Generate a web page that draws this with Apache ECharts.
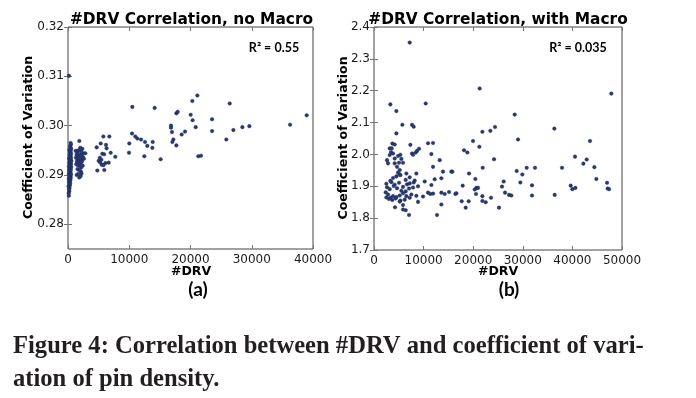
<!DOCTYPE html>
<html><head><meta charset="utf-8">
<script src="https://cdn.jsdelivr.net/npm/echarts@6/dist/echarts.min.js"></script>
<style>html,body{margin:0;padding:0;background:#fff}#c{width:696px;height:398px}</style>
</head><body><div id="c"></div>
<script>
// ---------- data ----------
const titleA = '#DRV Correlation, no Macro';
const titleB = '#DRV Correlation, with Macro';
const xNameText = '#DRV';
const yNameText = 'Coefficient of Variation';
const r2A = 'R\u00b2 = 0.55';
const r2B = 'R\u00b2 = 0.035';
const panelA = '(a)';
const panelB = '(b)';
const captionLines = ['Figure 4: Correlation between #DRV and coefficient of vari-', 'ation of pin density.'];

const xTicksA = [0, 10000, 20000, 30000, 40000];
const yTicksA = [0.28, 0.29, 0.30, 0.31, 0.32];
const xTicksB = [0, 10000, 20000, 30000, 40000, 50000];
const yTicksB = [1.7, 1.8, 1.9, 2.0, 2.1, 2.2, 2.3, 2.4];

// panel (a): #DRV vs coefficient of variation, no macro
const drvA = [150,120,200,180,250,100,300,220,350,160,280,400,130,330,450,210,370,260,500,140,310,420,230,380,190,460,290,340,520,170,400,250,480,320,210,440,360,550,270,410,190,490,330,430,260,500,380,300,450,220,520,400,350,480,420,160,
  1850,1250,2340,2500,2830,1500,1700,2000,2150,1400,1650,1900,2200,2450,1300,1550,1800,2050,2300,2600,1450,1750,2000,2250,1350,1600,1950,2150,2400,1550,1800,2100,1420,1850,2070,1650,2200,
  4680,5340,5770,6750,6200,6300,6970,7720,5600,5900,5010,5230,5500,5770,6100,6640,4790,5930,5200,5450,
  9960,10010,10450,10500,10990,11320,11920,12460,12570,12950,13770,13830,14150,15130,16820,16820,16980,17200,17690,17040,17690,17910,18560,19110,20030,20300,20350,20850,21120,21280,21720,23520,23520,25850,26400,27000,28470,29610,36260,38970];
const cvA = [0.2858,0.2863,0.2867,0.2871,0.2874,0.2877,0.2879,0.2882,0.2884,0.2886,0.2888,0.2890,0.2892,0.2893,0.2895,0.2896,0.2898,0.2899,0.2901,0.2902,0.2904,0.2905,0.2907,0.2908,0.2910,0.2911,0.2913,0.2914,0.2916,0.2917,0.2919,0.2920,0.2922,0.2923,0.2925,0.2926,0.2928,0.2929,0.2931,0.2932,0.2934,0.2935,0.2937,0.2939,0.2941,0.2943,0.2945,0.2947,0.2949,0.2951,0.2953,0.2956,0.2959,0.2962,0.2965,0.3101,
  0.2969,0.2949,0.2953,0.2944,0.2944,0.2946,0.2950,0.2955,0.2948,0.2941,0.2939,0.2942,0.2940,0.2936,0.2935,0.2933,0.2931,0.2934,0.2930,0.2933,0.2928,0.2926,0.2924,0.2927,0.2922,0.2920,0.2918,0.2915,0.2919,0.2912,0.2910,0.2907,0.2900,0.2895,0.2898,0.2902,0.2903,
  0.2956,0.2964,0.2978,0.2978,0.2961,0.2954,0.2945,0.2937,0.2943,0.2942,0.2929,0.2926,0.2921,0.2920,0.2924,0.2925,0.2909,0.2910,0.2935,0.2931,
  0.2945,0.2964,0.2984,0.3038,0.2978,0.2974,0.2972,0.2938,0.2967,0.2959,0.2955,0.2967,0.3036,0.2932,0.3000,0.2996,0.2987,0.2972,0.2960,0.2967,0.3025,0.3028,0.2982,0.2988,0.3022,0.3050,0.3011,0.2997,0.3061,0.2938,0.2939,0.3013,0.2989,0.2972,0.3045,0.2991,0.2997,0.2999,0.3002,0.3021];

// panel (b): #DRV vs coefficient of variation, with macro
const drvB = [7197,3299,4509,5719,7667,8003,10423,4509,3703,4173,3165,3568,7331,10893,11901,3434,3837,5315,4845,3165,2627,4173,5517,9079,8675,8407,7667,7869,11565,13245,2829,4173,5047,5853,4643,5181,4845,5181,6525,8541,11901,13917,15597,
  3837,4509,5315,6391,7197,8205,10221,12237,13581,3299,2493,3501,4173,5047,5853,6659,7197,8003,8877,11565,2627,3165,3971,4643,5517,6391,7063,7869,10893,11901,
  2359,2829,3299,3837,4509,5181,5853,6525,7533,8541,9885,11363,13581,14253,15127,16605,2493,3031,3703,4375,5315,6189,7197,8877,5853,6391,4240,5853,5181,7063,12707,13581,
  21309,47853,28365,24400,23459,21847,36362,19965,21242,29037,43552,18151,18823,24199,40528,42880,42208,44425,21914,15799,19159,37907,30784,32464,28768,29910,44829,20435,26147,29507,31859,46979,17882,39654,40595,39990,47114,47383,25811,20637,20301,20973,16403,20569,21847,26416,27222,27693,31859,36429,17680,19091,21847,22518,23594,18487,25206];
const cvB = [2.351,2.157,2.136,2.093,2.093,2.087,2.160,2.066,2.034,2.031,2.019,2.019,2.030,2.035,2.036,2.007,2.003,1.999,1.995,1.998,1.982,1.987,1.986,2.018,2.011,2.006,2.003,1.999,2.001,1.982,1.972,1.972,1.974,1.974,1.961,1.951,1.943,1.937,1.940,1.940,1.961,1.946,1.946,
  1.926,1.931,1.935,1.920,1.928,1.918,1.915,1.922,1.925,1.917,1.908,1.913,1.905,1.911,1.898,1.906,1.909,1.912,1.900,1.904,1.897,1.891,1.901,1.894,1.886,1.884,1.893,1.896,1.880,1.877,
  1.881,1.874,1.864,1.869,1.866,1.871,1.878,1.869,1.874,1.870,1.868,1.876,1.880,1.876,1.882,1.878,1.865,1.860,1.857,1.862,1.855,1.858,1.864,1.851,1.841,1.825,1.834,1.827,1.852,1.810,1.810,1.843,
  2.207,2.191,2.125,2.086,2.074,2.071,2.081,2.042,2.024,2.047,2.042,2.013,2.006,1.985,1.993,1.984,1.971,1.960,1.958,1.946,1.940,1.958,1.958,1.958,1.948,1.937,1.923,1.923,1.915,1.912,1.903,1.911,1.902,1.902,1.895,1.891,1.893,1.891,1.899,1.895,1.890,1.895,1.876,1.876,1.869,1.880,1.873,1.871,1.871,1.873,1.853,1.853,1.854,1.850,1.864,1.833,1.833];

// ---------- chart ----------
const zip = (xs, ys) => xs.map((x, i) => [x, ys[i]]);
const chart = echarts.init(document.getElementById('c'), null, {renderer: 'canvas'});
const frame = '#444';
const tickStyle = {inside: true, length: 4, lineStyle: {color: '#777', width: 1}};
const lbl = {fontFamily: 'DejaVu Sans', fontSize: 12, color: '#1a1a1a'};

function xAx(grid, ticks, pos, showLabel) {
  return {type: 'value', gridIndex: grid, position: pos, min: ticks[0], max: ticks[ticks.length - 1],
    axisLine: {show: false}, splitLine: {show: false},
    axisTick: Object.assign({customValues: ticks}, tickStyle),
    axisLabel: Object.assign({show: showLabel, customValues: ticks, margin: 5, showMinLabel: true, showMaxLabel: true,
      formatter: v => String(Math.round(v))}, lbl)};
}
function yAx(grid, ticks, min, max, pos, showLabel, dec) {
  return {type: 'value', gridIndex: grid, position: pos, min: min, max: max,
    axisLine: {show: false}, splitLine: {show: false},
    axisTick: Object.assign({customValues: ticks}, tickStyle),
    axisLabel: Object.assign({show: showLabel, customValues: ticks, margin: 4, showMinLabel: true, showMaxLabel: true,
      formatter: v => v.toFixed(dec)}, lbl)};
}

const txt = (x, y, text, font, extra) => Object.assign({type: 'text', x: x, y: y, silent: true,
  style: {text: text, font: font, fill: '#000', align: 'center', verticalAlign: 'middle'}}, extra || {});

const dot = {color: '#2a3a70', borderColor: '#1c2858', borderWidth: 0.4, opacity: 1};

chart.setOption({
  animation: false,
  backgroundColor: '#fff',
  grid: [
    {left: 68, top: 27, width: 245, height: 222, show: true, borderColor: frame, borderWidth: 1, backgroundColor: 'transparent'},
    {left: 374, top: 27, width: 248, height: 223, show: true, borderColor: frame, borderWidth: 1, backgroundColor: 'transparent'}
  ],
  xAxis: [
    xAx(0, xTicksA, 'bottom', true), xAx(0, xTicksA, 'top', false),
    xAx(1, xTicksB, 'bottom', true), xAx(1, xTicksB, 'top', false)
  ],
  yAxis: [
    yAx(0, yTicksA, 0.275, 0.32, 'left', true, 2), yAx(0, yTicksA, 0.275, 0.32, 'right', false, 2),
    yAx(1, yTicksB, 1.7, 2.4, 'left', true, 1), yAx(1, yTicksB, 1.7, 2.4, 'right', false, 1)
  ],
  series: [
    {type: 'scatter', xAxisIndex: 0, yAxisIndex: 0, data: zip(drvA, cvA), symbolSize: 3.6, itemStyle: dot},
    {type: 'scatter', xAxisIndex: 2, yAxisIndex: 2, data: zip(drvB, cvB), symbolSize: 3.6, itemStyle: dot}
  ],
  graphic: [
    txt(191.5, 20, titleA, 'bold 15.4px "DejaVu Sans"'),
    txt(498, 20, titleB, 'bold 15.4px "DejaVu Sans"'),
    txt(28.6, 137.5, yNameText, 'bold 12.6px "DejaVu Sans"', {rotation: Math.PI / 2}),
    txt(343.6, 138, yNameText, 'bold 12.6px "DejaVu Sans"', {rotation: Math.PI / 2}),
    txt(191, 272, xNameText, 'bold 12.5px "DejaVu Sans"'),
    txt(498, 272, xNameText, 'bold 12.5px "DejaVu Sans"'),
    txt(274, 47.5, r2A, 'bold 12.5px Lato'),
    txt(578, 47.5, r2B, 'bold 12.5px Lato'),
    txt(198, 290, panelA, 'bold 19px Lato'),
    txt(509, 290, panelB, 'bold 19px Lato'),
    {type: 'text', x: 13, y: 347, silent: true, style: {text: captionLines[0], font: 'bold 24.6px "Liberation Serif"', fill: '#231f20', align: 'left', verticalAlign: 'middle'}},
    {type: 'text', x: 13, y: 379.7, silent: true, style: {text: captionLines[1], font: 'bold 24.6px "Liberation Serif"', fill: '#231f20', align: 'left', verticalAlign: 'middle'}}
  ]
});
</script></body></html>
